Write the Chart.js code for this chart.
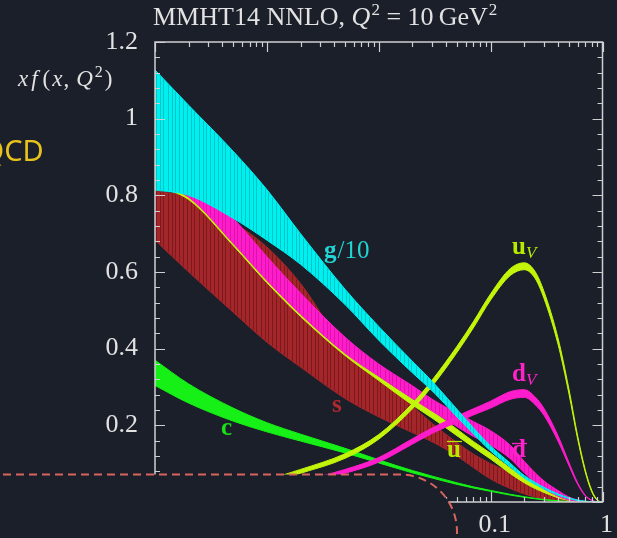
<!DOCTYPE html>
<html>
<head>
<meta charset="utf-8">
<title>MMHT14 NNLO PDFs</title>
<script src="https://cdn.jsdelivr.net/npm/chart.js@4.4.1/dist/chart.umd.min.js"></script>
<style>
  html, body { margin: 0; padding: 0; background: #1b1f2a; }
  canvas { display: block; }
</style>
</head>
<body>
<canvas id="pdfChart" width="617" height="538"></canvas>
<script>
// x grid (log) shared by every band
const xs = [1e-4, 2e-4, 5e-4, 1e-3, 2e-3, 5e-3, 0.01, 0.02, 0.03, 0.05, 0.07, 0.1,
            0.15, 0.2, 0.25, 0.3, 0.4, 0.5, 0.6, 0.7, 0.8, 0.9, 0.95, 1];

// lower / upper edge of each uncertainty band, x f(x, Q^2)
const gluonLo  = [0.814, 0.800, 0.740, 0.683, 0.620, 0.515, 0.422, 0.337, 0.290, 0.222, 0.178, 0.133, 0.091, 0.062, 0.046, 0.034, 0.018, 0.009, 0.004, 0.0015, 0.0005, 0.0001, 0, 0];
const gluonHi  = [1.127, 1.035, 0.915, 0.815, 0.700, 0.555, 0.458, 0.367, 0.315, 0.242, 0.194, 0.146, 0.101, 0.069, 0.051, 0.038, 0.021, 0.011, 0.005, 0.002, 0.0008, 0.0002, 0.0001, 0];
const sLo      = [0.683, 0.600, 0.495, 0.417, 0.352, 0.270, 0.222, 0.181, 0.157, 0.120, 0.090, 0.060, 0.035, 0.021, 0.013, 0.008, 0.003, 0.001, 0, 0, 0, 0, 0, 0];
const sHi      = [0.812, 0.795, 0.730, 0.665, 0.570, 0.400, 0.318, 0.250, 0.205, 0.155, 0.125, 0.100, 0.077, 0.062, 0.050, 0.040, 0.022, 0.010, 0.004, 0.001, 0, 0, 0, 0];
const dbarLo   = [0.830, 0.795, 0.675, 0.578, 0.490, 0.388, 0.328, 0.270, 0.237, 0.197, 0.171, 0.148, 0.113, 0.076, 0.050, 0.034, 0.015, 0.005, 0.001, 0, 0, 0, 0, 0];
const dbarHi   = [0.870, 0.840, 0.740, 0.640, 0.545, 0.430, 0.360, 0.303, 0.268, 0.232, 0.210, 0.186, 0.148, 0.106, 0.076, 0.055, 0.030, 0.013, 0.005, 0.0015, 0, 0, 0, 0];
const ubarLo   = [0.824, 0.789, 0.669, 0.572, 0.484, 0.382, 0.317, 0.253, 0.219, 0.173, 0.143, 0.112, 0.074, 0.050, 0.035, 0.025, 0.011, 0.004, 0.001, 0, 0, 0, 0, 0];
const ubarHi   = [0.829, 0.794, 0.674, 0.577, 0.489, 0.387, 0.326, 0.268, 0.236, 0.190, 0.158, 0.127, 0.088, 0.063, 0.045, 0.033, 0.015, 0.006, 0.002, 0.0005, 0, 0, 0, 0];
const charmLo  = [0.304, 0.258, 0.211, 0.183, 0.159, 0.128, 0.102, 0.076, 0.0625, 0.046, 0.0365, 0.0278, 0.018, 0.0122, 0.0084, 0.0055, 0.0027, 0.001, 0.0003, 0, 0, 0, 0, 0];
const charmHi  = [0.370, 0.308, 0.245, 0.207, 0.177, 0.140, 0.110, 0.082, 0.0675, 0.050, 0.0395, 0.0302, 0.020, 0.0138, 0.0096, 0.0065, 0.0033, 0.0014, 0.0005, 0.0001, 0, 0, 0, 0];
const uvLo     = [0.011, 0.017, 0.030, 0.050, 0.075, 0.114, 0.164, 0.243, 0.302, 0.390, 0.454, 0.527, 0.591, 0.606, 0.583, 0.531, 0.412, 0.284, 0.164, 0.079, 0.027, 0.0038, 0.0008, 0];
const uvHi     = [0.015, 0.023, 0.036, 0.058, 0.085, 0.126, 0.176, 0.257, 0.318, 0.406, 0.470, 0.543, 0.609, 0.624, 0.601, 0.549, 0.428, 0.296, 0.172, 0.085, 0.031, 0.0052, 0.0016, 0];
const dvLo     = [0.008, 0.013, 0.021, 0.031, 0.045, 0.075, 0.104, 0.151, 0.179, 0.208, 0.227, 0.245, 0.268, 0.273, 0.254, 0.226, 0.159, 0.096, 0.046, 0.016, 0.004, 0.0005, 0.0001, 0];
const dvHi     = [0.012, 0.017, 0.027, 0.039, 0.055, 0.085, 0.116, 0.165, 0.193, 0.224, 0.243, 0.263, 0.288, 0.293, 0.274, 0.244, 0.173, 0.104, 0.050, 0.018, 0.005, 0.0007, 0.0002, 0];

// axis ticks
const xLabelTicks = [1e-4, 1e-3, 1e-2, 0.1, 1];
const xLabelText = { 0.1: '0.1', 1: '1' };
const yLabelTicks = [0, 0.2, 0.4, 0.6, 0.8, 1.0, 1.2];

const BG = '#1b1f2a';
const FG = '#e2e2e2';
const SERIF = '"Liberation Serif", "DejaVu Serif", serif';

const canvas = document.getElementById('pdfChart');
const ctx = canvas.getContext('2d');

// band fill with faint vertical streaks
function streaky(color, dark) {
    const tile = document.createElement('canvas');
    tile.width = 31; tile.height = 4;
    const t = tile.getContext('2d');
    t.fillStyle = color;
    t.fillRect(0, 0, 31, 4);
    t.fillStyle = dark;
    [1, 5, 8, 13, 17, 20, 24, 28].forEach(x => t.fillRect(x, 0, 1, 4));
    return ctx.createPattern(tile, 'repeat');
}

const pts = arr => xs.map((x, i) => ({ x: x, y: arr[i] }));

function band(lo, hi, color, fillStyle, order) {
    const common = { borderColor: color, borderWidth: 1, pointRadius: 0,
                     cubicInterpolationMode: 'monotone', order: order };
    return [
        Object.assign({ data: pts(lo), fill: false }, common),
        Object.assign({ data: pts(hi), fill: '-1', backgroundColor: fillStyle }, common)
    ];
}

const datasets = [].concat(
    band(gluonLo, gluonHi, '#00f0f0', streaky('#00f0f0', 'rgba(0,120,130,0.35)'), 1),
    band(uvLo, uvHi, '#c2f50a', '#c2f50a', 2),
    band(dvLo, dvHi, '#ff1ccc', '#ff1ccc', 3),
    band(dbarLo, dbarHi, '#ff1ccc', streaky('#ff1ccc', 'rgba(140,0,90,0.3)'), 4),
    band(ubarLo, ubarHi, '#c2f50a', '#c2f50a', 5),
    band(charmLo, charmHi, '#16f016', '#16f016', 6),
    band(sLo, sHi, '#a3262b', streaky('#a3262b', 'rgba(60,0,0,0.35)'), 7)
);

// draw a run of text pieces with their own fonts / offsets
function textRun(c, x, y, parts) {
    parts.forEach(p => {
        c.font = p.f;
        c.fillText(p.t, x, y + (p.dy || 0));
        x += c.measureText(p.t).width + (p.gap || 0);
    });
    return x;
}

function overline(c, x0, x1, y, color) {
    c.strokeStyle = color;
    c.lineWidth = 1.3;
    c.beginPath();
    c.moveTo(x0, y);
    c.lineTo(x1, y);
    c.stroke();
}

const decor = {
    id: 'decor',
    beforeDraw(chart) {
        const c = chart.ctx;
        c.save();
        c.fillStyle = BG;
        c.fillRect(0, 0, chart.width, chart.height);
        c.restore();
    },
    afterDatasetsDraw(chart) {
        const c = chart.ctx;
        const a = chart.chartArea;
        const xScale = chart.scales.x, yScale = chart.scales.y;
        c.save();

        // frame
        c.strokeStyle = '#cfcfcf';
        c.lineWidth = 1.5;
        c.strokeRect(a.left, a.top, a.right - a.left, a.bottom - a.top);

        // inward ticks on all four sides
        c.lineWidth = 1.2;
        c.beginPath();
        for (let e = -4; e <= 0; e++) {
            for (let k = 1; k <= 9; k++) {
                const v = k * Math.pow(10, e);
                if (v > 1.0001) break;
                const px = Math.round(xScale.getPixelForValue(v)) + 0.5;
                const len = k === 1 ? 10 : 5;
                c.moveTo(px, a.top); c.lineTo(px, a.top + len);
                c.moveTo(px, a.bottom); c.lineTo(px, a.bottom - len);
            }
        }
        for (let i = 0; i <= 30; i++) {
            const py = Math.round(yScale.getPixelForValue(i * 0.04)) + 0.5;
            const len = i % 5 === 0 ? 10 : 5;
            c.moveTo(a.left, py); c.lineTo(a.left + len, py);
            c.moveTo(a.right, py); c.lineTo(a.right - len, py);
        }
        c.stroke();

        // curve labels
        c.textBaseline = 'alphabetic';
        c.fillStyle = '#22d4d4';
        textRun(c, 324, 258, [
            { t: 'g', f: `bold 25px ${SERIF}`, gap: 1 },
            { t: '/10', f: `25px ${SERIF}` }
        ]);
        c.fillStyle = '#b8ea00';
        textRun(c, 512, 254, [
            { t: 'u', f: `bold 25px ${SERIF}` },
            { t: 'V', f: `italic 17px ${SERIF}`, dy: 4 }
        ]);
        c.fillStyle = '#ff22c9';
        textRun(c, 512, 381, [
            { t: 'd', f: `bold 25px ${SERIF}` },
            { t: 'V', f: `italic 17px ${SERIF}`, dy: 4 }
        ]);
        c.font = `bold 25px ${SERIF}`;
        c.fillStyle = '#b8ea00';
        c.fillText('u', 447, 457);
        overline(c, 447, 462, 441.5, '#b8ea00');
        c.fillStyle = '#ff22c9';
        c.fillText('d', 512, 457);
        overline(c, 512, 527, 443.5, '#ff22c9');
        c.fillStyle = '#b0282c';
        c.fillText('s', 332, 412);
        c.fillStyle = '#19e019';
        c.fillText('c', 221, 435);

        c.restore();
    },
    afterDraw(chart) {
        const c = chart.ctx;
        c.save();
        c.fillStyle = FG;
        c.textBaseline = 'alphabetic';

        // title
        textRun(c, 153, 25, [
            { t: 'MMHT14 NNLO, ', f: `26px ${SERIF}` },
            { t: 'Q', f: `italic 26px ${SERIF}`, gap: 1 },
            { t: '2', f: `17px ${SERIF}`, dy: -10 },
            { t: ' = 10\u2009GeV', f: `26px ${SERIF}`, gap: 1 },
            { t: '2', f: `17px ${SERIF}`, dy: -10 }
        ]);

        // y-axis quantity
        textRun(c, 18, 86, [
            { t: 'x', f: `italic 23px ${SERIF}`, gap: 3 },
            { t: 'f', f: `italic 23px ${SERIF}`, gap: 5 },
            { t: '(', f: `23px ${SERIF}`, gap: 2 },
            { t: 'x', f: `italic 23px ${SERIF}`, gap: 1 },
            { t: ',', f: `23px ${SERIF}`, gap: 7 },
            { t: 'Q', f: `italic 23px ${SERIF}`, gap: 2 },
            { t: '2', f: `16px ${SERIF}`, dy: -9, gap: 2 },
            { t: ')', f: `23px ${SERIF}` }
        ]);

        // slide text peeking in from the left
        c.fillStyle = '#e9c31b';
        c.font = '29px "Noto Sans", sans-serif';
        c.fillText('QCD', -18.5, 161);

        // rounded dashed panel covering the lower left
        const path = () => {
            c.beginPath();
            c.moveTo(-10, 474.5);
            c.lineTo(400, 474.5);
            c.arc(400, 531.5, 57, -Math.PI / 2, 0);
            c.lineTo(457, 560);
        };
        path();
        c.lineTo(-10, 560);
        c.closePath();
        c.fillStyle = BG;
        c.fill();
        path();
        c.setLineDash([8, 5]);
        c.strokeStyle = '#d8655d';
        c.lineWidth = 2;
        c.stroke();
        c.restore();
    }
};

new Chart(ctx, {
    type: 'line',
    data: { datasets: datasets },
    options: {
        responsive: false,
        animation: false,
        devicePixelRatio: 1,
        events: [],
        layout: { padding: { top: 42, right: 13, bottom: 0, left: 0 } },
        plugins: { legend: { display: false }, tooltip: { enabled: false } },
        scales: {
            x: {
                type: 'logarithmic',
                min: 1e-4,
                max: 1,
                grid: { display: false, drawTicks: false },
                border: { display: false },
                afterBuildTicks: s => { s.ticks = xLabelTicks.map(v => ({ value: v })); },
                afterFit: s => { s.height = 36; },
                ticks: {
                    autoSkip: false,
                    maxRotation: 0,
                    padding: 8,
                    labelOffset: 4,
                    color: FG,
                    font: { family: SERIF, size: 26 },
                    callback: v => xLabelText[v] || ''
                }
            },
            y: {
                min: 0,
                max: 1.2,
                grid: { display: false, drawTicks: false },
                border: { display: false },
                afterBuildTicks: s => { s.ticks = yLabelTicks.map(v => ({ value: v })); },
                afterFit: s => { s.width = 155; },
                ticks: {
                    padding: 17,
                    color: FG,
                    font: { family: SERIF, size: 26 },
                    callback: v => String(+v.toFixed(1))
                }
            }
        }
    },
    plugins: [decor]
});
</script>
</body>
</html>
